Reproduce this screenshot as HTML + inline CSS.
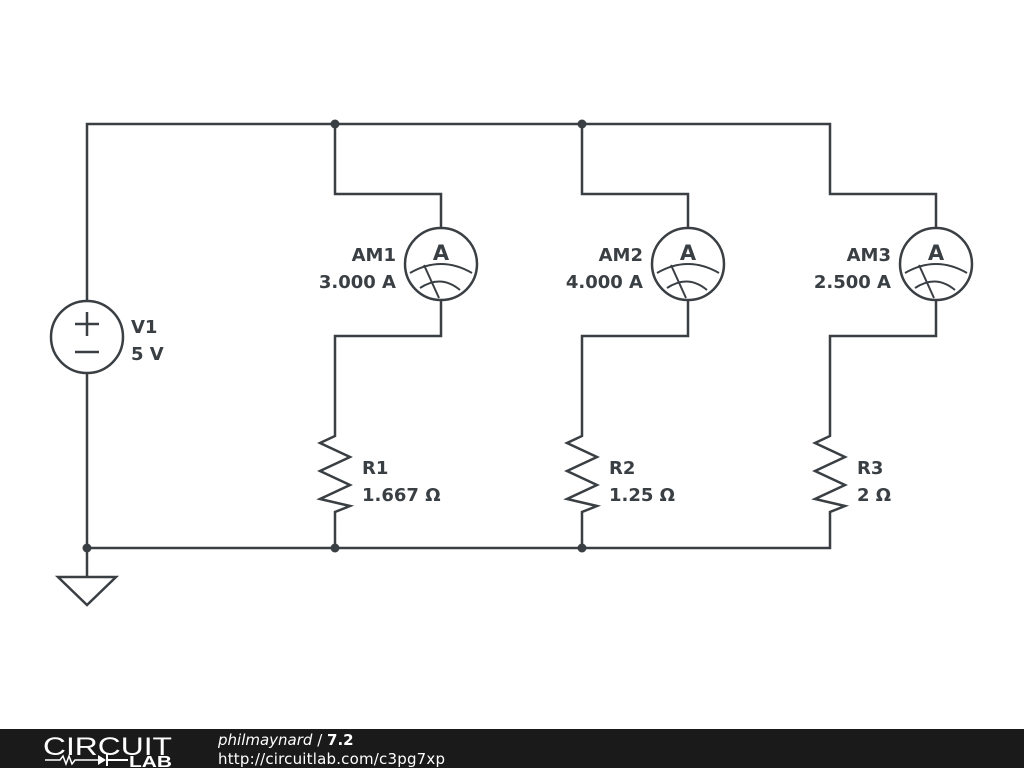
<!DOCTYPE html>
<html><head><meta charset="utf-8"><style>
html,body{margin:0;padding:0;background:#fff;width:1024px;height:768px;overflow:hidden}
svg{display:block}
text{font-family:"DejaVu Sans","Liberation Sans",sans-serif;font-weight:bold;fill:#3a3f44}
</style></head><body>
<svg width="1024" height="768" viewBox="0 0 1024 768">
<defs>
<g id="am">
<circle cx="0" cy="0" r="36" fill="none" stroke="#3a3f44" stroke-width="2.5"/>
<path d="M-31,9 Q0,-9 31,9 M-21,24 Q0,10 19,26 M-17,1 L-2,34" fill="none" stroke="#3a3f44" stroke-width="2"/>
<text x="0" y="-4" font-size="21" text-anchor="middle">A</text>
</g>
<path id="res" d="M0,0 L0,8 L-15,15 L15,29 L-15,43 L15,57 L-15,71 L15,78 L0,84 L0,90" fill="none" stroke="#3a3f44" stroke-width="2.5" stroke-linejoin="miter"/>
</defs>
<g fill="none" stroke="#3a3f44" stroke-width="2.5">
<path d="M87,301 L87,124 L830,124 L830,194 L936,194 L936,228"/>
<path d="M335,124 L335,194 L441,194 L441,228"/>
<path d="M582,124 L582,194 L688,194 L688,228"/>
<path d="M441,300 L441,336 L335,336 L335,428"/>
<path d="M688,300 L688,336 L582,336 L582,428"/>
<path d="M936,300 L936,336 L830,336 L830,428"/>
<path d="M335,518 L335,548 M582,518 L582,548 M830,518 L830,548 L87,548 L87,373"/>
<path d="M87,548 L87,577 M58,577 L116,577 L87,605 Z"/>
<circle cx="87" cy="337" r="36"/>
<path d="M75,324 L99,324 M87,312 L87,336 M75,352 L99,352"/>
</g>
<g fill="#3a3f44">
<circle cx="335" cy="124" r="4.5"/><circle cx="582" cy="124" r="4.5"/>
<circle cx="87" cy="548" r="4.5"/><circle cx="335" cy="548" r="4.5"/><circle cx="582" cy="548" r="4.5"/>
</g>
<use href="#res" x="335" y="428"/><use href="#res" x="582" y="428"/><use href="#res" x="830" y="428"/>
<use href="#am" x="441" y="264"/><use href="#am" x="688" y="264"/><use href="#am" x="936" y="264"/>
<g font-size="18">
<text x="131" y="333">V1</text><text x="131" y="360">5 V</text>
<text x="396" y="261" text-anchor="end">AM1</text><text x="396" y="288" text-anchor="end">3.000 A</text>
<text x="643" y="261" text-anchor="end">AM2</text><text x="643" y="288" text-anchor="end">4.000 A</text>
<text x="891" y="261" text-anchor="end">AM3</text><text x="891" y="288" text-anchor="end">2.500 A</text>
<text x="362" y="474">R1</text><text x="362" y="501">1.667 Ω</text>
<text x="609" y="474">R2</text><text x="609" y="501">1.25 Ω</text>
<text x="857" y="474">R3</text><text x="857" y="501">2 Ω</text>
</g>
<rect x="0" y="729" width="1024" height="39" fill="#1a1a1a"/>
<text x="43" y="755" font-size="25" textLength="129" lengthAdjust="spacingAndGlyphs" style="font-weight:normal;fill:#fff;font-family:'Liberation Sans',sans-serif">CIRCUIT</text>
<path d="M45,760 L60,760 L63,756 L66,764 L69,756 L72,764 L75,760 L98,760" stroke="#fff" stroke-width="1.5" fill="none"/>
<path d="M98,755 L106,760 L98,765 Z" fill="#fff"/><path d="M107,754 L107,766 M107,760 L128,760" stroke="#fff" stroke-width="2"/>
<text x="129" y="767" font-size="16" textLength="43" lengthAdjust="spacingAndGlyphs" style="fill:#fff;font-family:'Liberation Sans',sans-serif">LAB</text>
<text x="218" y="745" font-size="15" style="fill:#fff;font-weight:normal;font-style:italic">philmaynard <tspan style="font-style:normal">/</tspan> <tspan style="font-style:normal;font-weight:bold">7.2</tspan></text>
<text x="218" y="764" font-size="15" textLength="227" style="fill:#fff;font-weight:normal">http://circuitlab.com/c3pg7xp</text>
</svg>
</body></html>
